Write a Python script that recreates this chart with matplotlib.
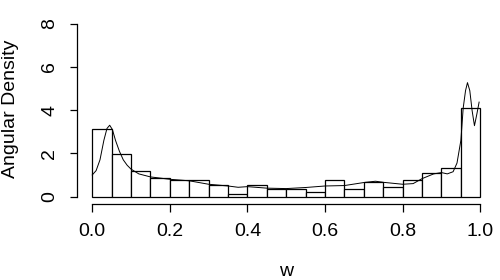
import matplotlib
matplotlib.use("Agg")
import matplotlib.pyplot as plt
import numpy as np

plt.rcParams['font.family'] = ['Liberation Sans', 'DejaVu Sans']

# histogram: 20 bins on [0, 1], density heights
bin_edges = np.linspace(0, 1, 21)
bin_heights = [3.13, 1.96, 1.17, 0.85, 0.77, 0.76, 0.52, 0.11, 0.52, 0.37,
               0.35, 0.20, 0.76, 0.34, 0.68, 0.43, 0.76, 1.08, 1.33, 4.09]

# kernel density curve
dens_w = [0.0, 0.01, 0.02, 0.03, 0.038, 0.045, 0.052, 0.06, 0.07, 0.08,
          0.09, 0.10, 0.12, 0.15, 0.2, 0.25, 0.3, 0.35, 0.376, 0.4,
          0.45, 0.5, 0.55, 0.6, 0.65, 0.7, 0.73, 0.75, 0.8, 0.827,
          0.85, 0.88, 0.9, 0.915, 0.93, 0.94, 0.95, 0.956, 0.962, 0.967,
          0.973, 0.979, 0.985, 0.991, 0.997]
dens_y = [1.0, 1.2, 1.7, 2.6, 3.15, 3.3, 3.1, 2.6, 2.1, 1.7,
          1.45, 1.27, 1.05, 0.91, 0.80, 0.73, 0.57, 0.49, 0.43, 0.46,
          0.39, 0.37, 0.42, 0.49, 0.51, 0.65, 0.71, 0.66, 0.57, 0.60,
          0.83, 1.05, 1.11, 1.05, 1.15, 1.55, 2.6, 4.1, 4.9, 5.27,
          4.9, 3.97, 3.28, 3.8, 4.37]

xticks = [0.0, 0.2, 0.4, 0.6, 0.8, 1.0]
yticks = [0, 2, 4, 6, 8]

fig = plt.figure(figsize=(5, 2.8), dpi=100)
ax = fig.add_axes([76.7/500, (280-203.5)/280, 419.1/500, 186.8/280])

ax.bar(bin_edges[:-1], bin_heights, width=np.diff(bin_edges), align='edge',
       color='white', edgecolor='black', linewidth=0.9)
ax.plot(dens_w, dens_y, color='black', linewidth=0.7)

ax.set_xlim(-0.04, 1.04)
ax.set_ylim(-0.32, 8.32)

for s in ['top', 'right']:
    ax.spines[s].set_visible(False)
ax.spines['left'].set_bounds(0, 8)
ax.spines['bottom'].set_bounds(0, 1)
ax.spines['left'].set_linewidth(0.9)
ax.spines['bottom'].set_linewidth(0.9)

ax.set_xticks(xticks)
ax.set_xticklabels(["%.1f" % v for v in xticks])
ax.set_yticks(yticks)
ax.set_yticklabels([str(v) for v in yticks], rotation=90, va='center')
ax.tick_params(axis='both', length=5.4, width=0.9, labelsize=14)
ax.tick_params(axis='x', pad=9)
ax.tick_params(axis='y', pad=8)

fig.text(286/500, (280-276.5)/280, "w", ha='center', va='baseline', fontsize=14)
fig.text(11/500, (280-109)/280, "Angular Density", ha='center', va='center',
         rotation=90, fontsize=14)

fig.savefig("out.png", dpi=100)
